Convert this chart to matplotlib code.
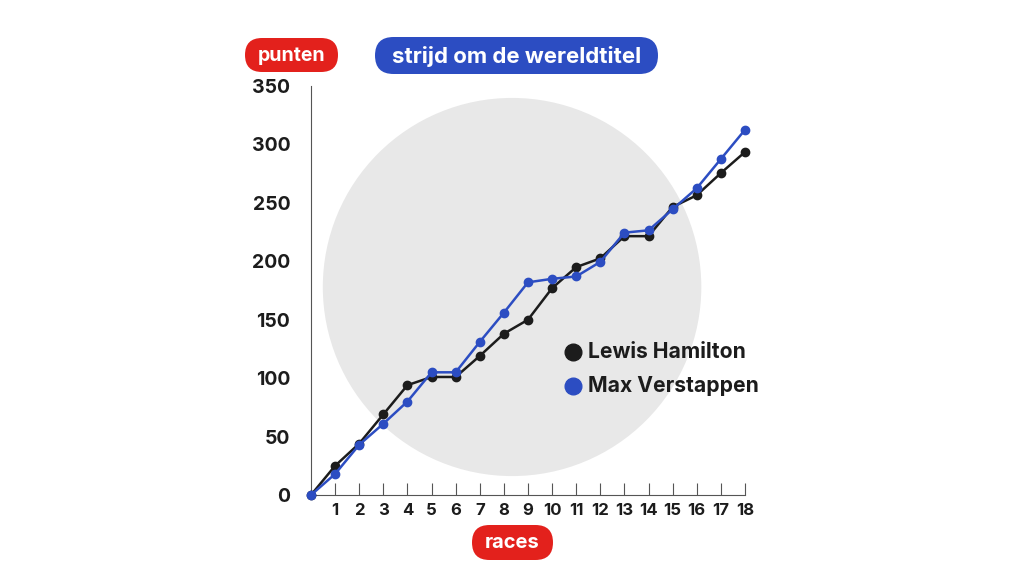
import matplotlib
matplotlib.use('Agg')
import matplotlib.pyplot as plt
from matplotlib.patches import Ellipse, FancyBboxPatch

plt.rcParams['font.family'] = ['Inter', 'DejaVu Sans']

# gegevens: cumulatieve punten per race (WK 2021)
races = list(range(0, 19))
hamilton = [0, 25, 44, 69, 94, 101, 101, 119, 138, 150, 177, 195, 202.5, 221.5, 221.5, 246.5, 256.5, 275.5, 293.5]
verstappen = [0, 18, 43, 61, 80, 105, 105, 131, 156, 182, 185, 187, 199.5, 224.5, 226.5, 244.5, 262.5, 287.5, 312.5]
y_ticks = [0, 50, 100, 150, 200, 250, 300, 350]
x_ticks = list(range(1, 19))

RED = '#e3211c'
BLUE = '#2c4dc2'
BLACK = '#1c1c1c'

W, H = 1024, 576
fig = plt.figure(figsize=(W / 100, H / 100), dpi=100)
ax = fig.add_axes([0.3037, 0.1406, 0.4238, 0.7101])

# grijze cirkel op de achtergrond
ax.add_patch(Ellipse((8.34, 178), 15.7, 323.6, facecolor='#e8e8e8', edgecolor='none', zorder=0))

ax.plot(races, hamilton, color=BLACK, lw=1.8, marker='o', ms=6, clip_on=False, zorder=3)
ax.plot(races, verstappen, color=BLUE, lw=1.8, marker='o', ms=6, clip_on=False, zorder=4)

ax.set_xlim(0, 18)
ax.set_ylim(0, 350)
ax.set_xticks(x_ticks)
ax.set_xticklabels([str(x) for x in x_ticks], fontsize=12, fontweight='bold', color=BLACK)
ax.set_yticks(y_ticks)
ax.set_yticklabels([str(y) for y in y_ticks], fontsize=14, fontweight='bold', color=BLACK)
ax.tick_params(axis='x', direction='in', length=9, width=0.8, color='#555555', pad=6)
ax.tick_params(axis='y', length=0, pad=15)
for side in ['top', 'right']:
    ax.spines[side].set_visible(False)
for side in ['left', 'bottom']:
    ax.spines[side].set_color('#555555')
    ax.spines[side].set_linewidth(0.8)
ax.patch.set_alpha(0)

# legenda
ax.plot([10.85], [122], 'o', color=BLACK, ms=12, clip_on=False)
ax.plot([10.85], [93], 'o', color=BLUE, ms=12, clip_on=False)
ax.text(11.5, 122, 'Lewis Hamilton', fontsize=15.2, fontweight='bold', color=BLACK, va='center')
ax.text(11.5, 93, 'Max Verstappen', fontsize=15.2, fontweight='bold', color=BLACK, va='center')


def pill(text, x0, x1, y0, y1, color, size):
    # pil in pixels (y van boven gemeten)
    h = (y1 - y0) / 100
    patch = FancyBboxPatch((x0 / 100, (H - y1) / 100), (x1 - x0) / 100, h,
                           boxstyle='round,pad=0,rounding_size=%f' % (h / 2),
                           transform=fig.dpi_scale_trans, fc=color, ec='none')
    fig.patches.append(patch)
    fig.text((x0 + x1) / 2 / W, 1 - ((y0 + y1) / 2 + 1) / H, text, fontsize=size,
             fontweight='bold', color='white', ha='center', va='center')


pill('punten', 245, 338, 38, 72, RED, 14)
pill('strijd om de wereldtitel', 375, 658, 37, 74, BLUE, 16)
pill('races', 472, 553, 525, 560, RED, 14.5)

fig.savefig('out.png', dpi=100, facecolor='white')
